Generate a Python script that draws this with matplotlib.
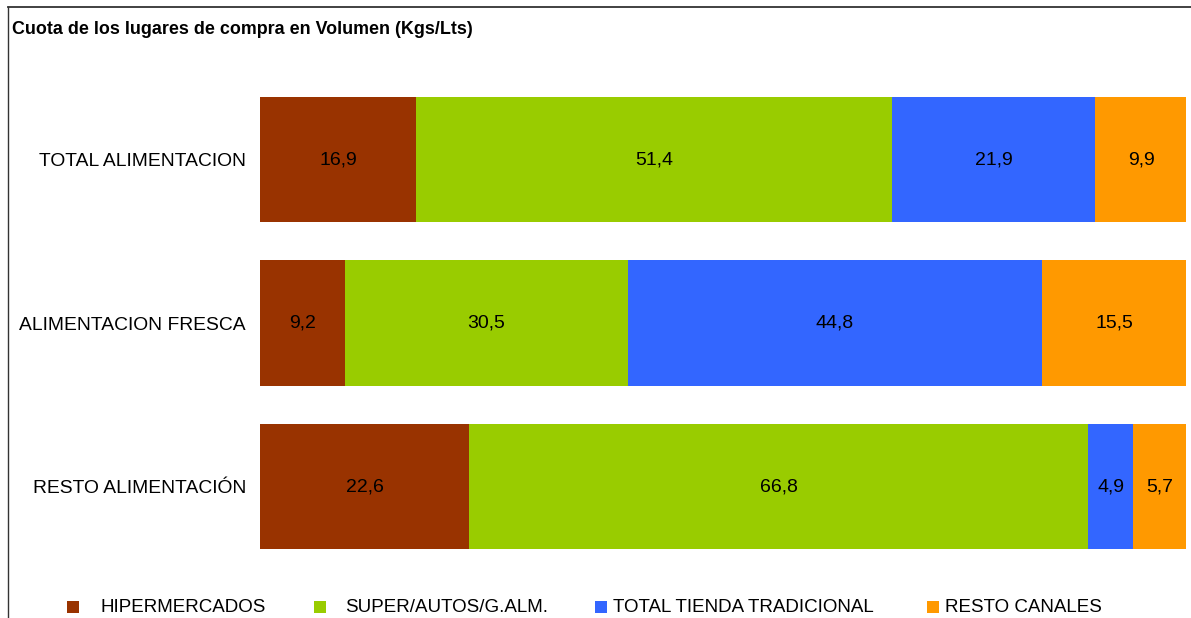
import numpy as np
import matplotlib.pyplot as plt
from matplotlib.patches import Rectangle
from matplotlib.lines import Line2D

plt.rcParams['font.family'] = ['Liberation Sans', 'DejaVu Sans']

# datos
categorias = ["TOTAL ALIMENTACION", "ALIMENTACION FRESCA", "RESTO ALIMENTACIÓN"]
series = ["HIPERMERCADOS", "SUPER/AUTOS/G.ALM.", "TOTAL TIENDA TRADICIONAL", "RESTO CANALES"]
hiper = [16.9, 9.2, 22.6]
super_ = [51.4, 30.5, 66.8]
tienda = [21.9, 44.8, 4.9]
resto = [9.9, 15.5, 5.7]
colores = ["#993300", "#99CC00", "#3366FF", "#FF9900"]

valores = [hiper, super_, tienda, resto]

fig = plt.figure(figsize=(11.91, 6.18), dpi=100)
ax = fig.add_axes([260 / 1191, 1 - 568.25 / 618, 926 / 1191, 490.5 / 618])

y = np.arange(len(categorias))
izq = np.zeros(len(categorias))
for vals, col in zip(valores, colores):
    vals = np.array(vals)
    ax.barh(y, vals, left=izq, height=0.765, color=col, edgecolor='none')
    for yi, l, v in zip(y, izq, vals):
        ax.text(l + v / 2, yi, f"{v:.1f}".replace('.', ','), ha='center', va='center',
                fontsize=14, color='black')
    izq += vals

ax.set_xlim(0, 100)
ax.set_ylim(2.5, -0.5)
ax.set_yticks(y)
ax.set_yticklabels(categorias, fontsize=13.9)
ax.set_xticks([])
ax.tick_params(axis='y', length=0, pad=10)
for s in ax.spines.values():
    s.set_visible(False)

# marco
fig.add_artist(Line2D([8 / 1191, 1.0], [1 - 7 / 618, 1 - 7 / 618], color='#333333', lw=1.3))
fig.add_artist(Line2D([8 / 1191, 8 / 1191], [0, 1 - 7 / 618], color='#333333', lw=1.0))

fig.text(12 / 1191, 1 - 30 / 618, "Cuota de los lugares de compra en Volumen (Kgs/Lts)",
         fontsize=12.9, fontweight='bold', va='center', ha='left')

# leyenda
pos_cuadro = [73, 320, 601, 933]
pos_texto = [100, 345, 613, 945]
for nombre, col, xc, xt in zip(series, colores, pos_cuadro, pos_texto):
    fig.add_artist(Rectangle(((xc - 6) / 1191, 1 - 613 / 618), 12 / 1191, 12 / 618,
                             facecolor=col, edgecolor='none'))
    fig.text(xt / 1191, 1 - 607 / 618, nombre, fontsize=13.5, va='center', ha='left')

fig.savefig("out.png", dpi=100)
